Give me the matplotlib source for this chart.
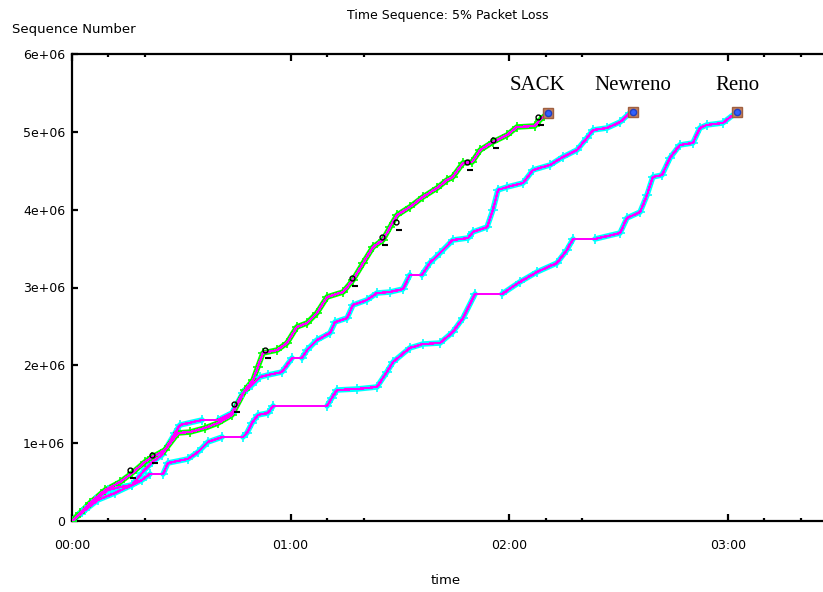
import matplotlib
matplotlib.use("Agg")
import matplotlib.pyplot as plt
import matplotlib.transforms as mtransforms
from matplotlib.ticker import FixedLocator, FuncFormatter
import numpy as np

# time (s) and sequence number
sack_t = [0, 2.2, 4.9, 9.1, 13.2, 16.5, 20.0, 22.0, 25.5, 29.1, 32.4, 36.5, 40.1,
          43.9, 47.5, 49.7, 51.0, 52.4, 56.3, 59.0, 61.7, 64.5, 67.2, 70.0, 74.4,
          77.1, 79.9, 82.6, 85.3, 87.3, 89.2, 92.7, 96.3, 100.2, 102.9, 104.5,
          107.3, 109.8, 112.0, 115.5, 119.4, 122.1, 127.0, 128.4, 130.6]
sack_seq = [0, 0.103e6, 0.231e6, 0.398e6, 0.501e6, 0.617e6, 0.758e6, 0.822e6,
            0.912e6, 1.131e6, 1.143e6, 1.195e6, 1.259e6, 1.362e6, 1.683e6,
            1.812e6, 1.979e6, 2.158e6, 2.197e6, 2.287e6, 2.493e6, 2.544e6,
            2.672e6, 2.878e6, 2.942e6, 3.096e6, 3.315e6, 3.520e6, 3.610e6,
            3.777e6, 3.931e6, 4.034e6, 4.163e6, 4.278e6, 4.381e6, 4.420e6,
            4.600e6, 4.612e6, 4.766e6, 4.869e6, 4.959e6, 5.062e6, 5.075e6,
            5.152e6, 5.242e6]

newreno_t = [0, 2.7, 6.3, 9.9, 13.2, 16.5, 19.2, 22.0, 24.7, 28.3, 29.6, 35.7,
             40.1, 43.9, 46.9, 49.4, 51.6, 53.8, 57.6, 60.4, 63.1, 64.5, 67.2,
             70.8, 72.2, 75.5, 77.1, 80.9, 83.7, 87.3, 90.8, 92.7, 96.0, 98.2,
             101.0, 104.5, 108.7, 110.0, 113.9, 115.5, 116.9, 119.4, 123.8,
             126.5, 131.2, 134.7, 138.6, 141.3, 143.0, 146.8, 150.4, 153.1, 154.0]
newreno_seq = [0, 0.116e6, 0.270e6, 0.398e6, 0.437e6, 0.463e6, 0.617e6,
               0.758e6, 0.848e6, 1.131e6, 1.233e6, 1.298e6, 1.298e6, 1.388e6,
               1.645e6, 1.747e6, 1.850e6, 1.876e6, 1.914e6, 2.094e6, 2.094e6,
               2.197e6, 2.325e6, 2.415e6, 2.557e6, 2.608e6, 2.775e6, 2.839e6,
               2.929e6, 2.942e6, 2.981e6, 3.161e6, 3.161e6, 3.315e6, 3.443e6,
               3.610e6, 3.636e6, 3.713e6, 3.777e6, 3.996e6, 4.253e6, 4.291e6,
               4.343e6, 4.510e6, 4.574e6, 4.677e6, 4.767e6, 4.921e6, 5.024e6,
               5.049e6, 5.126e6, 5.242e6, 5.255e6]

reno_t = [0, 3.6, 7.1, 11.8, 16.5, 19.2, 21.4, 25.0, 26.3, 31.8, 34.6, 37.3,
          41.2, 46.9, 48.0, 49.4, 51.0, 53.8, 55.2, 70.0, 71.3, 72.7, 78.2,
          83.7, 86.4, 88.1, 92.7, 96.3, 101.0, 104.5, 107.3, 110.6, 118.0,
          122.9, 127.6, 133.1, 135.8, 137.5, 143.5, 150.4, 152.3, 155.9, 157.8,
          159.4, 161.9, 164.1, 166.8, 170.4, 172.3, 174.2, 178.6, 182.5]
reno_seq = [0, 0.141e6, 0.270e6, 0.360e6, 0.463e6, 0.527e6, 0.604e6, 0.604e6,
            0.745e6, 0.797e6, 0.887e6, 1.015e6, 1.079e6, 1.079e6, 1.131e6,
            1.259e6, 1.362e6, 1.388e6, 1.478e6, 1.478e6, 1.580e6, 1.683e6,
            1.696e6, 1.722e6, 1.914e6, 2.043e6, 2.223e6, 2.274e6, 2.287e6,
            2.428e6, 2.608e6, 2.917e6, 2.917e6, 3.071e6, 3.199e6, 3.315e6,
            3.482e6, 3.623e6, 3.623e6, 3.700e6, 3.893e6, 3.970e6, 4.188e6,
            4.420e6, 4.445e6, 4.664e6, 4.831e6, 4.857e6, 5.049e6, 5.088e6,
            5.114e6, 5.255e6]

# SACK retransmission marks
retx_t = [15.9, 22.0, 44.5, 53.0, 76.8, 85.1, 88.9, 108.4, 115.5, 127.9]
retx_seq = [0.655e6, 0.848e6, 1.503e6, 2.197e6, 3.122e6, 3.649e6, 3.842e6,
            4.612e6, 4.895e6, 5.191e6]

names = ["SACK", "Newreno", "Reno"]

x_major = [0, 60, 120, 180]
x_minor = [10, 20, 70, 80, 130, 140, 190, 200]
y_major = [0, 1e6, 2e6, 3e6, 4e6, 5e6, 6e6]


def sending_runs(t, s):
    # split a trace where the sequence stays flat (timeouts, nothing sent)
    runs, cur = [], [0]
    for i in range(1, len(t)):
        if s[i] == s[i - 1]:
            if len(cur) > 1:
                runs.append(cur)
            cur = [i]
        else:
            cur.append(i)
    if len(cur) > 1:
        runs.append(cur)
    return runs


fig = plt.figure(figsize=(8.23, 5.92), dpi=100)
ax = fig.add_axes([72 / 823, 71 / 592, 751 / 823, 467 / 592])

series = [(reno_t, reno_seq, "#00ffff"),
          (newreno_t, newreno_seq, "#00ffff"),
          (sack_t, sack_seq, "#00ff00")]

for t, s, col in series:
    for run in sending_runs(t, s):
        rt = [t[i] for i in run]
        rs = [s[i] for i in run]
        ax.plot(rt, rs, color=col, lw=4.0, solid_capstyle="round", zorder=2)
        ax.plot(rt, rs, ls="none", marker="+", ms=7.5, mew=1.2, color=col,
                markevery=0.004, zorder=3)
    ax.plot(t, s, color="#ff00ff", lw=0.9, antialiased=False, zorder=4)
    # end-of-trace marker
    ax.plot(t[-1], s[-1], marker="s", ms=7, mfc="#c08060", mec="#a06040", zorder=5)
    ax.plot(t[-1], s[-1], marker="o", ms=4.5, mfc="#3060ff", mec="#2040c0", zorder=6)

ax.plot(retx_t, retx_seq, ls="none", marker="o", ms=3.5, mfc="none", mec="black",
        mew=1.0, zorder=6)
off = mtransforms.offset_copy(ax.transData, fig=fig, x=3, y=-8, units="dots")
ax.plot(retx_t, retx_seq, ls="none", marker="_", ms=5, mew=1.5, color="black",
        transform=off, zorder=6)

label_dx = [-3, 0, 0]
for (t, s, _), name, dx in zip([series[2], series[1], series[0]], names, label_dx):
    ax.text(t[-1] + dx, 5.6e6, name, ha="center", va="center", fontsize=15,
            family="Liberation Serif")

ax.set_xlim(0, 206.1)
ax.set_ylim(0, 6e6)
ax.spines["right"].set_visible(False)
for sp in ["left", "top", "bottom"]:
    ax.spines[sp].set_linewidth(1.6)

ax.xaxis.set_major_locator(FixedLocator(x_major))
ax.xaxis.set_minor_locator(FixedLocator(x_minor))
ax.yaxis.set_major_locator(FixedLocator(y_major))
ax.xaxis.set_major_formatter(FuncFormatter(lambda v, p: f"{int(v // 60):02d}:{int(v % 60):02d}"))
ax.yaxis.set_major_formatter(FuncFormatter(lambda v, p: "0" if v == 0 else f"{v:.0e}"))
ax.tick_params(axis="x", which="both", direction="in", top=True, bottom=True,
               width=1.6, labelsize=9, pad=13)
ax.tick_params(axis="x", which="major", length=5)
ax.tick_params(axis="x", which="minor", length=2.5)
ax.tick_params(axis="y", which="major", direction="in", left=True, right=False,
               length=4.5, width=1.6, labelsize=9, pad=5)

fig.text(447.5 / 823, 1 - 15 / 592, "Time Sequence: 5% Packet Loss",
         ha="center", va="center", fontsize=9)
fig.text(12 / 823, 1 - 30 / 592, "Sequence Number", ha="left", va="center",
         fontsize=9.5)
fig.text(446 / 823, 1 - 580 / 592, "time", ha="center", va="center", fontsize=9.5)

fig.savefig("out.png", dpi=100)
